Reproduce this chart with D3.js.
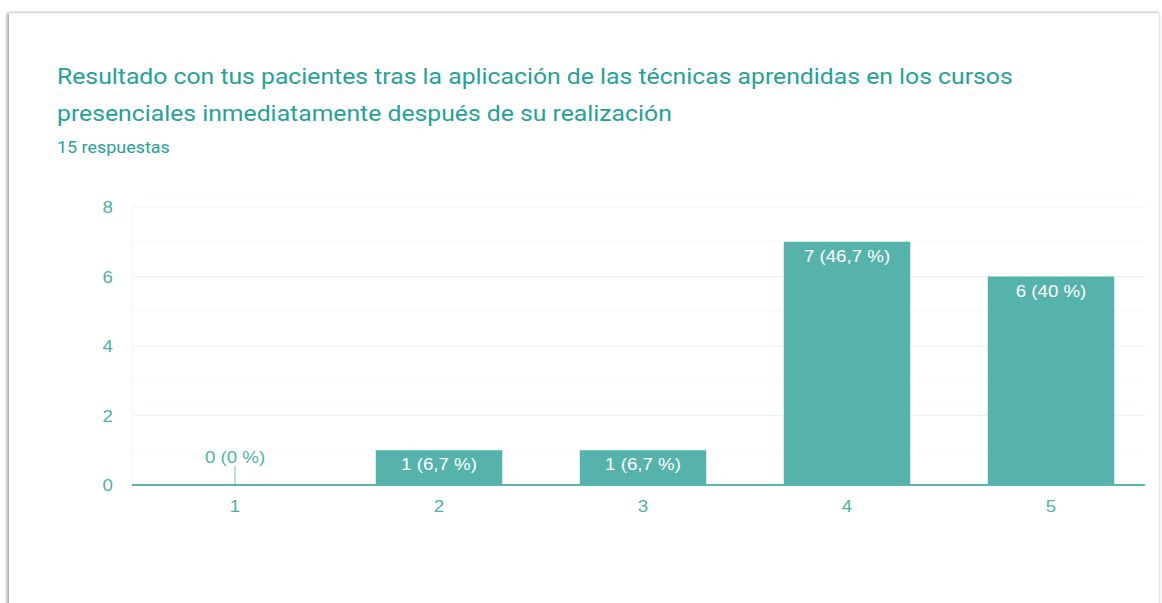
<!DOCTYPE html>
<html>
<head>
<meta charset="utf-8">
<script src="https://cdn.jsdelivr.net/npm/d3@7"></script>
<style>
  body { margin: 0; background: #fff; font-family: Roboto, "Noto Sans", Arial, sans-serif; }
  #card {
    position: absolute; left: 9px; top: 13px; width: 1150px; height: 600px;
    background: #fff;
    box-shadow: -2px 0 3px rgba(0,0,0,0.35), 0 -1px 2px rgba(0,0,0,0.08);
    border-right: 1px solid #e6e6e6;
  }
  .num { font-family: "Liberation Sans", Arial, sans-serif; }
</style>
</head>
<body>
<div id="card"></div>
<svg id="chart" width="1162" height="603" style="position:absolute;left:0;top:0"></svg>
<script>
  var titleLines = ["Resultado con tus pacientes tras la aplicación de las técnicas aprendidas en los cursos",
                    "presenciales inmediatamente después de su realización"];
  var subtitle = "15 respuestas";
  var categories = ["1", "2", "3", "4", "5"];
  var counts = [0, 1, 1, 7, 6];
  var pctLabels = ["0 %", "6,7 %", "6,7 %", "46,7 %", "40 %"];
  var yTicks = [0, 2, 4, 6, 8];
  var yMinor = [1, 3, 5, 7];

  var svg = d3.select("#chart");

  var teal = "#26a196";
  var barColor = "#56b3ac";
  var axisText = "#4db1a7";
  var sx = 1.1; // the picture is a bit wider than tall

  // helper: put text at (px, py), stretched a little horizontally
  function stretched(sel, px, py){
    return sel.attr("transform", "translate(" + px + "," + py + ") scale(" + sx + ",1)");
  }

  // title
  titleLines.forEach(function(t, i){
    stretched(svg.append("text"), 57, 84 + i * 37)
      .attr("font-size", 22.5)
      .attr("fill", teal)
      .text(t);
  });

  stretched(svg.append("text"), 57, 153)
    .attr("font-size", 16.3)
    .attr("fill", teal)
    .text(subtitle);

  var x = d3.scaleBand()
    .domain(categories)
    .range([133, 1153])
    .paddingInner(0.38)
    .paddingOuter(0.19);

  var y = d3.scaleLinear()
    .domain([0, 8])
    .range([485, 207]);

  var plotRight = 1145;

  // grid
  svg.selectAll(".minor")
    .data(yMinor)
    .enter()
    .append("line")
    .attr("x1", 132).attr("x2", plotRight)
    .attr("y1", function(d){ return y(d); })
    .attr("y2", function(d){ return y(d); })
    .attr("stroke", "#f3faf9");

  svg.selectAll(".major")
    .data(yTicks.slice(1))
    .enter()
    .append("line")
    .attr("x1", 132).attr("x2", plotRight)
    .attr("y1", function(d){ return y(d); })
    .attr("y2", function(d){ return y(d); })
    .attr("stroke", "#eaf6f5");

  svg.append("line")
    .attr("x1", 132.5).attr("x2", 132.5)
    .attr("y1", y(8)).attr("y2", y(0))
    .attr("stroke", "#eef8f7");

  // y labels
  yTicks.forEach(function(d){
    stretched(svg.append("text"), 113, y(d) + 6)
      .attr("class", "num")
      .attr("text-anchor", "end")
      .attr("font-size", 17)
      .attr("fill", axisText)
      .text(d);
  });

  // bars
  svg.selectAll(".bar")
    .data(counts)
    .enter()
    .append("rect")
    .attr("x", function(d, i){ return x(categories[i]); })
    .attr("y", function(d){ return y(d); })
    .attr("width", x.bandwidth())
    .attr("height", function(d){ return y(0) - y(d); })
    .attr("fill", barColor);

  // zero marker
  counts.forEach(function(d, i){
    if (d === 0) {
      var cx = x(categories[i]) + x.bandwidth() / 2;
      svg.append("line")
        .attr("x1", cx).attr("x2", cx)
        .attr("y1", y(0)).attr("y2", y(0) - 19)
        .attr("stroke", "#9fd5d0")
        .attr("stroke-width", 1.5);
    }
  });

  // bar labels
  counts.forEach(function(d, i){
    var cx = x(categories[i]) + x.bandwidth() / 2;
    var ly = d === 0 ? y(0) - 22 : y(d) + 20;
    stretched(svg.append("text"), cx, ly)
      .attr("class", "num")
      .attr("text-anchor", "middle")
      .attr("font-size", 17)
      .attr("fill", d === 0 ? axisText : "#fff")
      .text(d + " (" + pctLabels[i] + ")");
  });

  // baseline
  svg.append("line")
    .attr("x1", 132).attr("x2", plotRight)
    .attr("y1", y(0)).attr("y2", y(0))
    .attr("stroke", "#5ab5ad")
    .attr("stroke-width", 2);

  // x labels
  categories.forEach(function(d){
    stretched(svg.append("text"), x(d) + x.bandwidth() / 2, 512)
      .attr("class", "num")
      .attr("text-anchor", "middle")
      .attr("font-size", 17)
      .attr("fill", axisText)
      .text(d);
  });
</script>
</body>
</html>
